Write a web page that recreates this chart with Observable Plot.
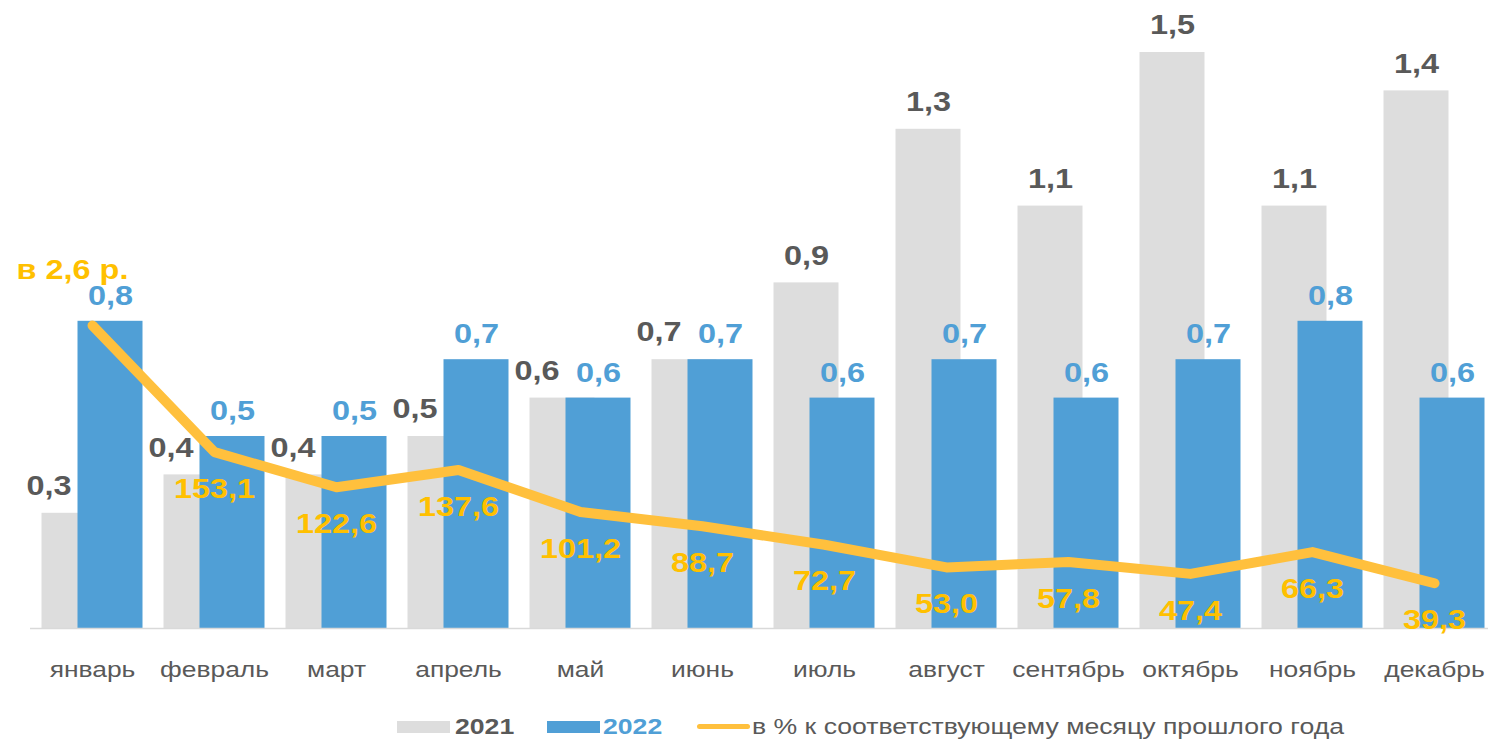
<!DOCTYPE html>
<html>
<head>
<meta charset="utf-8">
<script src="https://cdn.jsdelivr.net/npm/d3@7"></script>
<script src="https://cdn.jsdelivr.net/npm/@observablehq/plot@0.6"></script>
<style>
  html, body { margin: 0; padding: 0; background: #fff; }
  body { width: 1488px; font-family: "Liberation Sans", Arial, sans-serif; }
  #legend { position: relative; height: 36px; font-size: 22px; color: #595959; }
  #legend .sw { position: absolute; top: 16px; width: 53px; height: 12px; }
  #legend .ln { position: absolute; top: 19px; width: 53px; height: 5px; border-radius: 3px; background: #FFC03D; }
  #legend .tx { position: absolute; top: 9px; line-height: 26px; white-space: nowrap; transform: scaleX(1.21); transform-origin: left center; }
</style>
</head>
<body>
<div id="chart"></div>
<div id="legend">
  <span class="sw" style="left:397px;background:#DDDDDD"></span>
  <span class="tx" style="left:455px;font-weight:bold;color:#595959">2021</span>
  <span class="sw" style="left:547px;background:#509FD6"></span>
  <span class="tx" style="left:603px;font-weight:bold;color:#509FD6">2022</span>
  <span class="ln" style="left:697px"></span>
  <span class="tx" style="left:752px">в % к соответствующему месяцу прошлого года</span>
</div>
<script>
const months = ["январь","февраль","март","апрель","май","июнь","июль","август","сентябрь","октябрь","ноябрь","декабрь"];
const values2021 = [0.3,0.4,0.4,0.5,0.6,0.7,0.9,1.3,1.1,1.5,1.1,1.4];
const values2022 = [0.8,0.5,0.5,0.7,0.6,0.7,0.6,0.7,0.6,0.7,0.8,0.6];
const pctValues = [263,153.1,122.6,137.6,101.2,88.7,72.7,53.0,57.8,47.4,66.3,39.3];
const firstPctLabel = "в 2,6 р.";

// secondary axis (0–600 %) mapped onto primary axis (0–1.8)
const secFactor = 1.8 / 600;
const fmt = v => v.toFixed(1).replace(".", ",");

const data = months.map((m, i) => ({
  month: m,
  v2021: values2021[i],
  v2022: values2022[i],
  pct: pctValues[i],
  pctY: pctValues[i] * secFactor,
  idx: i
}));

const gray = "#DDDDDD", blue = "#509FD6", lineCol = "#FFC03D", pctText = "#FFC000", dark = "#595959";
const labelFont = {fontSize: 27, fontWeight: "bold"};

const chart = Plot.plot({
  width: 1488,
  height: 705,
  marginLeft: 30,
  marginRight: 0,
  marginTop: 13.6,
  marginBottom: 77,
  style: {fontFamily: "'Liberation Sans', Arial, sans-serif", background: "#fff"},
  x: {type: "band", domain: months, range: [30.5, 1494.5], padding: 0, label: null},
  y: {domain: [0, 1.6], axis: null},
  marks: [
    Plot.barY(data, {x: "month", y: "v2021", fill: gray, insetLeft: 28.5, insetRight: 28.5, dx: -18}),
    Plot.barY(data, {x: "month", y: "v2022", fill: blue, insetLeft: 28.5, insetRight: 28.5, dx: 18}),
    Plot.ruleY([0], {stroke: "#D9D9D9", strokeWidth: 1.5}),
    Plot.axisX({tickSize: 0, tickPadding: 33, fontSize: 22, fill: dark, label: null}),
    // 2021 labels
    Plot.text(data.filter(d => d.v2021 > d.v2022), {x: "month", y: "v2021", text: d => fmt(d.v2021), dx: -18, dy: -27, fill: dark, ...labelFont}),
    Plot.text(data.filter(d => d.v2021 <= d.v2022), {x: "month", y: "v2021", text: d => fmt(d.v2021), textAnchor: "end", dx: -21, dy: -27, fill: dark, ...labelFont}),
    // 2022 labels
    Plot.text(data, {x: "month", y: "v2022", text: d => fmt(d.v2022), dx: 18, dy: -25, fill: blue, ...labelFont}),
    // line
    Plot.lineY(data, {x: "month", y: "pctY", stroke: lineCol, strokeWidth: 10, strokeLinecap: "round", strokeLinejoin: "round"}),
    // pct labels
    Plot.text(data.filter(d => d.idx > 0), {x: "month", y: "pctY", text: d => fmt(d.pct), dy: 37, fill: pctText, ...labelFont}),
    Plot.text(data.filter(d => d.idx === 0), {x: "month", y: "pctY", text: () => firstPctLabel, dx: -20, dy: -55, fill: pctText, ...labelFont})
  ]
});
document.getElementById("chart").appendChild(chart);

// the reference's lettering is horizontally widened; stretch glyphs to match
chart.querySelectorAll("text").forEach(el => {
  const len = el.getComputedTextLength();
  if (len > 0) {
    el.setAttribute("textLength", (len * 1.2).toFixed(1));
    el.setAttribute("lengthAdjust", "spacingAndGlyphs");
  }
});
</script>
</body>
</html>
